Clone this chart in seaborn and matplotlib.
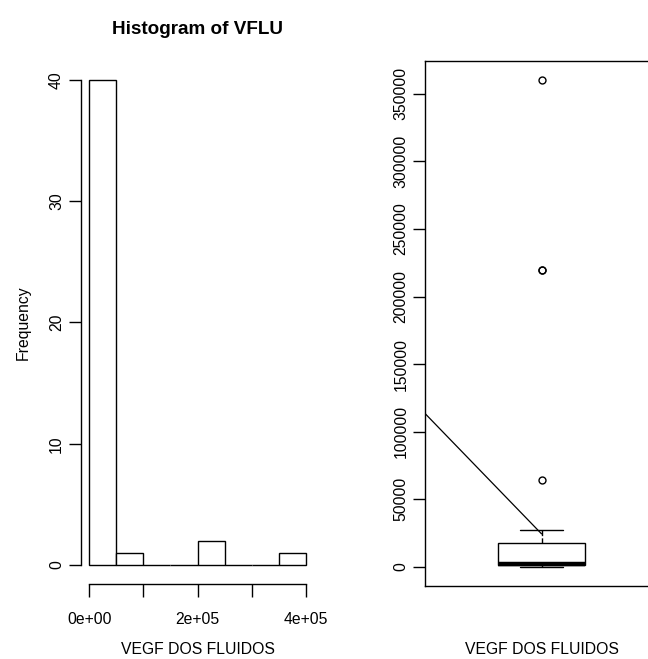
import matplotlib
matplotlib.use("Agg")
import matplotlib.pyplot as plt
import seaborn as sns
import numpy as np
import pandas as pd

# VEGF measured in fluid samples (44 observations)
vflu = [
    120, 180, 260, 340, 420, 510, 600, 680, 760, 850, 950,
    1020, 1100, 1180, 1260, 1350, 1440, 1530, 1620, 1710, 1800, 1900,
    2100, 2600, 3300, 4100, 5200, 6400, 8000, 9700, 11800, 14300, 17500,
    17900, 19200, 20600, 22100, 23700, 25400, 27300,
    64000, 220000, 220000, 360000,
]
bin_edges = [0, 50000, 100000, 150000, 200000, 250000, 300000, 350000, 400000]
hist_yticks = [0, 10, 20, 30, 40]
hist_xticks = [0, 100000, 200000, 300000, 400000]
hist_xticklabels = ["0e+00", "", "2e+05", "", "4e+05"]
box_yticks = [0, 50000, 100000, 150000, 200000, 250000, 300000, 350000]
trend_x = [-0.5, 0.0]
trend_y = [113400, 24300]

sns.set_theme(style="white")
plt.rcParams["font.family"] = ["Liberation Sans", "DejaVu Sans"]
plt.rcParams["font.size"] = 11.3
for key in ("text.color", "axes.labelcolor", "xtick.color", "ytick.color"):
    plt.rcParams[key] = "black"

df = pd.DataFrame({"VFLU": vflu})

fig = plt.figure(figsize=(6.48, 6.59), dpi=100)
ax1 = fig.add_axes([0.1244, 0.1132, 0.3608, 0.7951])
ax2 = fig.add_axes([0.6559, 0.1108, 0.3596, 0.7967])

# Histogram panel
sns.histplot(data=df, x="VFLU", bins=bin_edges, ax=ax1, stat="count",
             color="white", edgecolor="black", linewidth=1.0, alpha=1.0)
ax1.set_xlim(-16000, 416000)
ax1.set_ylim(-1.6, 41.6)
ax1.set_xticks(hist_xticks)
ax1.set_xticklabels(hist_xticklabels)
ax1.set_yticks(hist_yticks)
ax1.set_yticklabels([str(v) for v in hist_yticks], rotation=90, va="center")
ax1.tick_params(axis="y", which="major", length=9, width=1.0, color="black",
                labelsize=11.3, pad=3, left=True)
ax1.tick_params(axis="x", which="major", length=9, width=1.0, color="black",
                labelsize=11.3, pad=11, bottom=True)
ax1.set_xlabel("")
ax1.set_ylabel("Frequency", fontsize=11.3, labelpad=13)
ax1.set_title("Histogram of VFLU", fontsize=13.6, fontweight="bold", pad=19)
sns.despine(ax=ax1, trim=True)
for s in ("left", "bottom"):
    ax1.spines[s].set_color("black")
    ax1.spines[s].set_linewidth(1.0)
ax1.grid(False)

# Boxplot panel
sns.boxplot(data=df, y="VFLU", ax=ax2, width=0.373, color="white",
            linecolor="black", linewidth=1.0, whis=1.5,
            boxprops=dict(facecolor="white", edgecolor="black"),
            medianprops=dict(color="black", linewidth=3.2),
            whiskerprops=dict(color="black", linestyle="--", linewidth=1.0),
            capprops=dict(color="black", linewidth=1.0),
            flierprops=dict(marker="o", markerfacecolor="none",
                            markeredgecolor="black", markersize=5,
                            markeredgewidth=1.0))
sns.lineplot(x=trend_x, y=trend_y, ax=ax2, color="black", linewidth=0.9)
ax2.set_xlim(-0.5, 0.5)
ax2.set_ylim(-14300, 374400)
ax2.set_yticks(box_yticks)
ax2.set_yticklabels([str(v) for v in box_yticks], rotation=90, va="center")
ax2.set_xticks([])
ax2.tick_params(axis="y", which="major", length=9, width=1.0, color="black",
                labelsize=11.3, pad=3, left=True)
ax2.set_ylabel("")
ax2.set_xlabel("")
for s in ax2.spines.values():
    s.set_visible(True)
    s.set_color("black")
    s.set_linewidth(1.0)
ax2.grid(False)

# Axis titles below both panels
for cx in (198 / 648, 541.7 / 648):
    fig.text(cx, 1 - 650 / 659, "VEGF DOS FLUIDOS", ha="center",
             va="center", fontsize=11.3)

fig.savefig("out.png", dpi=100, facecolor="white")
